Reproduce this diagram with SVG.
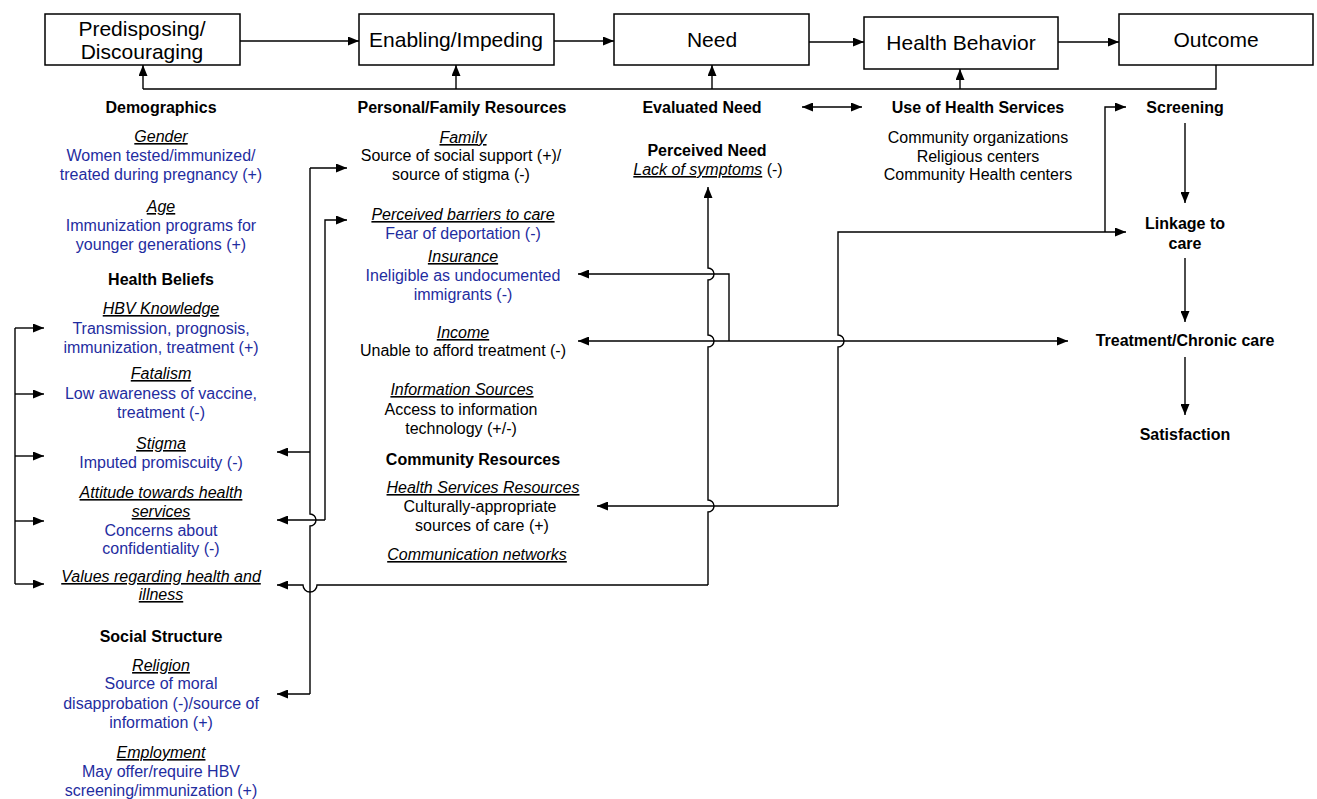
<svg xmlns="http://www.w3.org/2000/svg" width="1317" height="799" viewBox="0 0 1317 799">
<defs>
<style>
.box{fill:#fff;stroke:#000;stroke-width:1.5}
text{font-family:"Liberation Sans",Arial,sans-serif;text-anchor:middle;fill:#000}
.bt{font-size:21px}
.h{font-size:16px;font-weight:bold}
.t{font-size:16px}
.lab{font-style:italic;text-decoration:underline}
.b{fill:#1f2d9f}
.c{fill:none;stroke:#000;stroke-width:1.4}
.a{marker-end:url(#ah)}
</style>
<marker id="ah" markerWidth="11" markerHeight="9" refX="11" refY="4.5" orient="auto-start-reverse" markerUnits="userSpaceOnUse">
<path d="M0,0 L11,4.5 L0,9 z" fill="#000"/>
</marker>
</defs>
<rect width="1317" height="799" fill="#fff"/>

<g id="connectors">
<path class="c a" d="M240,41 H359"/>
<path class="c a" d="M554,41 H614"/>
<path class="c a" d="M809,42 H864"/>
<path class="c a" d="M1058,42 H1119"/>
<path class="c" d="M1216,65 V89 H143"/>
<path class="c a" d="M143,89 V65"/>
<path class="c a" d="M456,89 V65"/>
<path class="c a" d="M712,89 V65"/>
<path class="c a" d="M960,89 V69"/>
<path class="c a" d="M802,107 H862" style="marker-start:url(#ah)"/>
<path class="c" d="M15,328 V584"/>
<path class="c a" d="M15,328 H44"/>
<path class="c a" d="M15,394 H44"/>
<path class="c a" d="M15,456 H44"/>
<path class="c a" d="M15,521 H44"/>
<path class="c a" d="M15,584 H44"/>
<path class="c" d="M310,168 V514 A6,6 0 0 1 310,526 V694"/>
<path class="c a" d="M310,168 H347"/>
<path class="c a" d="M310,452 H277"/>
<path class="c a" d="M310,694 H277"/>
<path class="c a" d="M325,520 V220 H347"/>
<path class="c a" d="M325,520 H277"/>
<path class="c a" d="M708,585 H317 A7,7 0 0 1 303,585 H277"/>
<path class="c a" d="M708,585 V512 A6,6 0 0 0 708,500 V347 A6,6 0 0 0 708,335 V280 A6,6 0 0 0 708,268 V187"/>
<path class="c a" d="M729,341 V274 H578"/>
<path class="c a" d="M729,341 H578"/>
<path class="c a" d="M729,341 H1068"/>
<path class="c a" d="M838,506 H597"/>
<path class="c a" d="M838,506 V347 A6,6 0 0 0 838,335 V232 H1126"/>
<path class="c a" d="M1105,232 V107 H1126"/>
<path class="c a" d="M1185,123 V203"/>
<path class="c a" d="M1185,258 V322"/>
<path class="c a" d="M1185,357 V415"/>
</g>

<g id="predisposing">
<rect class="box" x="45" y="14" width="195" height="51"/>
<text class="bt" x="142" y="36">Predisposing/</text>
<text class="bt" x="142" y="59">Discouraging</text>
</g>
<g id="enabling">
<rect class="box" x="359" y="14" width="195" height="51"/>
<text class="bt" x="456" y="47">Enabling/Impeding</text>
</g>
<g id="need">
<rect class="box" x="614" y="14" width="195" height="51"/>
<text class="bt" x="712" y="47">Need</text>
</g>
<g id="health-behavior">
<rect class="box" x="864" y="17" width="194" height="52"/>
<text class="bt" x="961" y="50">Health Behavior</text>
</g>
<g id="outcome">
<rect class="box" x="1119" y="14" width="194" height="51"/>
<text class="bt" x="1216" y="47">Outcome</text>
</g>

<g id="demographics">
<text class="h" x="161" y="113">Demographics</text>
<text class="t lab" x="161" y="142">Gender</text>
<text class="t b" x="161" y="161">Women tested/immunized/</text>
<text class="t b" x="161" y="180">treated during pregnancy (+)</text>
<text class="t lab" x="161" y="212">Age</text>
<text class="t b" x="161" y="231">Immunization programs for</text>
<text class="t b" x="161" y="250">younger generations (+)</text>
</g>
<g id="health-beliefs">
<text class="h" x="161" y="285">Health Beliefs</text>
<text class="t lab" x="161" y="314">HBV Knowledge</text>
<text class="t b" x="161" y="334">Transmission, prognosis,</text>
<text class="t b" x="161" y="353">immunization, treatment (+)</text>
<text class="t lab" x="161" y="379">Fatalism</text>
<text class="t b" x="161" y="399">Low awareness of vaccine,</text>
<text class="t b" x="161" y="418">treatment (-)</text>
<text class="t lab" x="161" y="449">Stigma</text>
<text class="t b" x="161" y="468">Imputed promiscuity (-)</text>
<text class="t lab" x="161" y="498">Attitude towards health</text>
<text class="t lab" x="161" y="517">services</text>
<text class="t b" x="161" y="536">Concerns about</text>
<text class="t b" x="161" y="554">confidentiality (-)</text>
<text class="t lab" x="161" y="582">Values regarding health and</text>
<text class="t lab" x="161" y="600">illness</text>
</g>
<g id="social-structure">
<text class="h" x="161" y="642">Social Structure</text>
<text class="t lab" x="161" y="671">Religion</text>
<text class="t b" x="161" y="689">Source of moral</text>
<text class="t b" x="161" y="709">disapprobation (-)/source of</text>
<text class="t b" x="161" y="728">information (+)</text>
<text class="t lab" x="161" y="758">Employment</text>
<text class="t b" x="161" y="777">May offer/require HBV</text>
<text class="t b" x="161" y="796">screening/immunization (+)</text>
</g>

<g id="personal-family-resources">
<text class="h" x="462" y="113">Personal/Family Resources</text>
<text class="t lab" x="463" y="143">Family</text>
<text class="t" x="461" y="161">Source of social support (+)/</text>
<text class="t" x="461" y="180">source of stigma (-)</text>
<text class="t lab" x="463" y="220">Perceived barriers to care</text>
<text class="t b" x="463" y="239">Fear of deportation (-)</text>
<text class="t lab" x="463" y="262">Insurance</text>
<text class="t b" x="463" y="281">Ineligible as undocumented</text>
<text class="t b" x="463" y="300">immigrants (-)</text>
<text class="t lab" x="463" y="338">Income</text>
<text class="t" x="463" y="356">Unable to afford treatment (-)</text>
<text class="t lab" x="462" y="395">Information Sources</text>
<text class="t" x="461" y="415">Access to information</text>
<text class="t" x="461" y="434">technology (+/-)</text>
</g>
<g id="community-resources">
<text class="h" x="473" y="465">Community Resources</text>
<text class="t lab" x="483" y="493">Health Services Resources</text>
<text class="t" x="480" y="512">Culturally-appropriate</text>
<text class="t" x="482" y="531">sources of care (+)</text>
<text class="t lab" x="477" y="560">Communication networks</text>
</g>

<g id="evaluated-need">
<text class="h" x="702" y="113">Evaluated Need</text>
</g>
<g id="perceived-need">
<text class="h" x="707" y="156">Perceived Need</text>
<text class="t" x="708" y="175"><tspan class="lab">Lack of symptoms</tspan> (-)</text>
</g>
<g id="use-of-health-services">
<text class="h" x="978" y="113">Use of Health Services</text>
<text class="t" x="978" y="143">Community organizations</text>
<text class="t" x="978" y="162">Religious centers</text>
<text class="t" x="978" y="180">Community Health centers</text>
</g>
<g id="screening"><text class="h" x="1185" y="113">Screening</text></g>
<g id="linkage"><text class="h" x="1185" y="229">Linkage to</text><text class="h" x="1185" y="249">care</text></g>
<g id="treatment"><text class="h" x="1185" y="346">Treatment/Chronic care</text></g>
<g id="satisfaction"><text class="h" x="1185" y="440">Satisfaction</text></g>
</svg>
